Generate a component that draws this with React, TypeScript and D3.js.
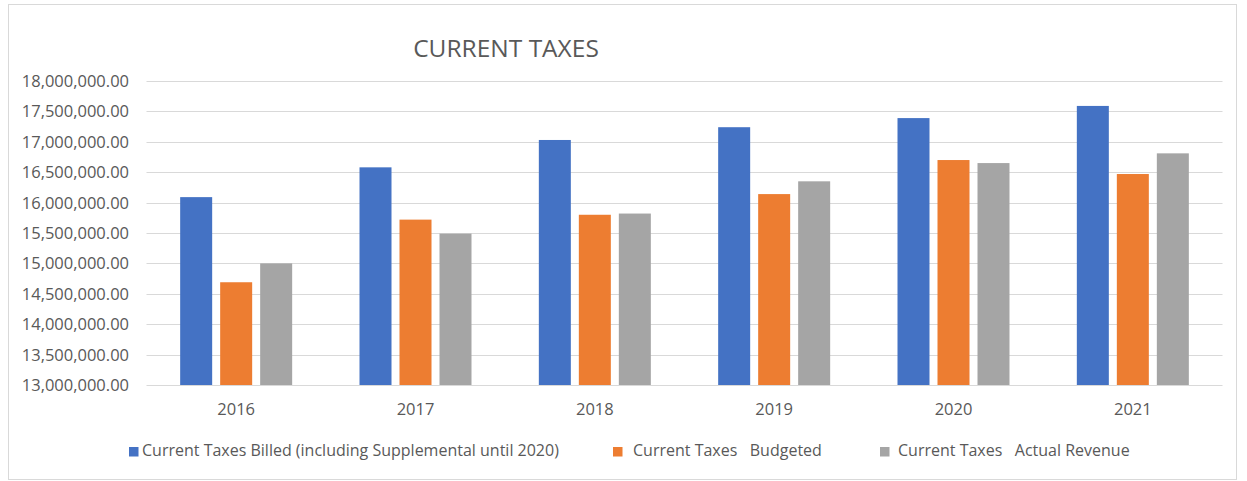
import React from "react";
import * as d3 from "d3";

const years = ["2016", "2017", "2018", "2019", "2020", "2021"];
const seriesNames = [
  "Current Taxes Billed (including Supplemental until 2020)",
  "Current Taxes   Budgeted",
  "Current Taxes   Actual Revenue",
];
const billed = [16090000, 16580000, 17030000, 17240000, 17390000, 17590000];
const budgeted = [14690000, 15720000, 15800000, 16140000, 16700000, 16470000];
const actual = [15000000, 15490000, 15820000, 16350000, 16650000, 16810000];
const yTicks = [13000000, 13500000, 14000000, 14500000, 15000000, 15500000, 16000000, 16500000, 17000000, 17500000, 18000000];
const colors = ["#4472C4", "#ED7D31", "#A5A5A5"];
const title = "CURRENT TAXES";

const W = 1247;
const H = 481;
const FONT = "'Open Sans', 'Noto Sans', sans-serif";
const TEXT = "#595959";

export default function App() {
  const series = [billed, budgeted, actual];
  const y = d3.scaleLinear().domain([13000000, 18000000]).range([385, 81]);
  const x0 = d3.scaleBand<string>().domain(years).range([146.5, 1222.5]);
  const x1 = d3
    .scaleBand<number>()
    .domain([0, 1, 2])
    .range([0, 120])
    .paddingInner(0.2)
    .paddingOuter(0.1);
  const fmt = d3.format(",.2f");

  const legendX = [129, 613, 880];
  const legendTextX = [142, 633, 898];

  return (
    <div style={{ position: "absolute", left: 0, top: 0 }}>
      <svg width={W} height={H} style={{ display: "block", background: "#fff" }}>
        <rect x={0} y={0} width={W} height={H} fill="#fff" />
        <rect x={8.5} y={4.5} width={1228} height={475} fill="none" stroke="#D9D9D9" strokeWidth={1} />
        <text x={506} y={57} textAnchor="middle" fontFamily={FONT} fontSize={24.5} fill={TEXT}>
          {title}
        </text>
        {yTicks.map((t) => (
          <line
            key={t}
            x1={146.5}
            x2={1222.5}
            y1={Math.round(y(t)) + 0.5}
            y2={Math.round(y(t)) + 0.5}
            stroke="#D9D9D9"
            strokeWidth={1}
          />
        ))}
        {yTicks.map((t) => (
          <text
            key={"l" + t}
            x={129}
            y={y(t)}
            dy="0.36em"
            textAnchor="end"
            fontFamily={FONT}
            fontSize={16.5}
            fill={TEXT}
          >
            {fmt(t)}
          </text>
        ))}
        {years.map((yr, i) => {
          const cx = (x0(yr) as number) + x0.bandwidth() / 2 - 60;
          return (
            <g key={yr} transform={`translate(${cx},0)`}>
              {series.map((s, k) => (
                <rect
                  key={k}
                  x={x1(k) as number}
                  y={y(s[i])}
                  width={x1.bandwidth()}
                  height={y(13000000) - y(s[i])}
                  fill={colors[k]}
                />
              ))}
            </g>
          );
        })}
        {years.map((yr) => (
          <text
            key={"x" + yr}
            x={(x0(yr) as number) + x0.bandwidth() / 2}
            y={414.5}
            textAnchor="middle"
            fontFamily={FONT}
            fontSize={16.5}
            fill={TEXT}
          >
            {yr}
          </text>
        ))}
        {seriesNames.map((n, k) => (
          <g key={n}>
            <rect x={legendX[k]} y={447} width={9.5} height={9.5} fill={colors[k]} />
            <text
              x={legendTextX[k]}
              y={456}
              fontFamily={FONT}
              fontSize={16}
              fill={TEXT}
              style={{ whiteSpace: "pre" }}
            >
              {n}
            </text>
          </g>
        ))}
      </svg>
    </div>
  );
}
